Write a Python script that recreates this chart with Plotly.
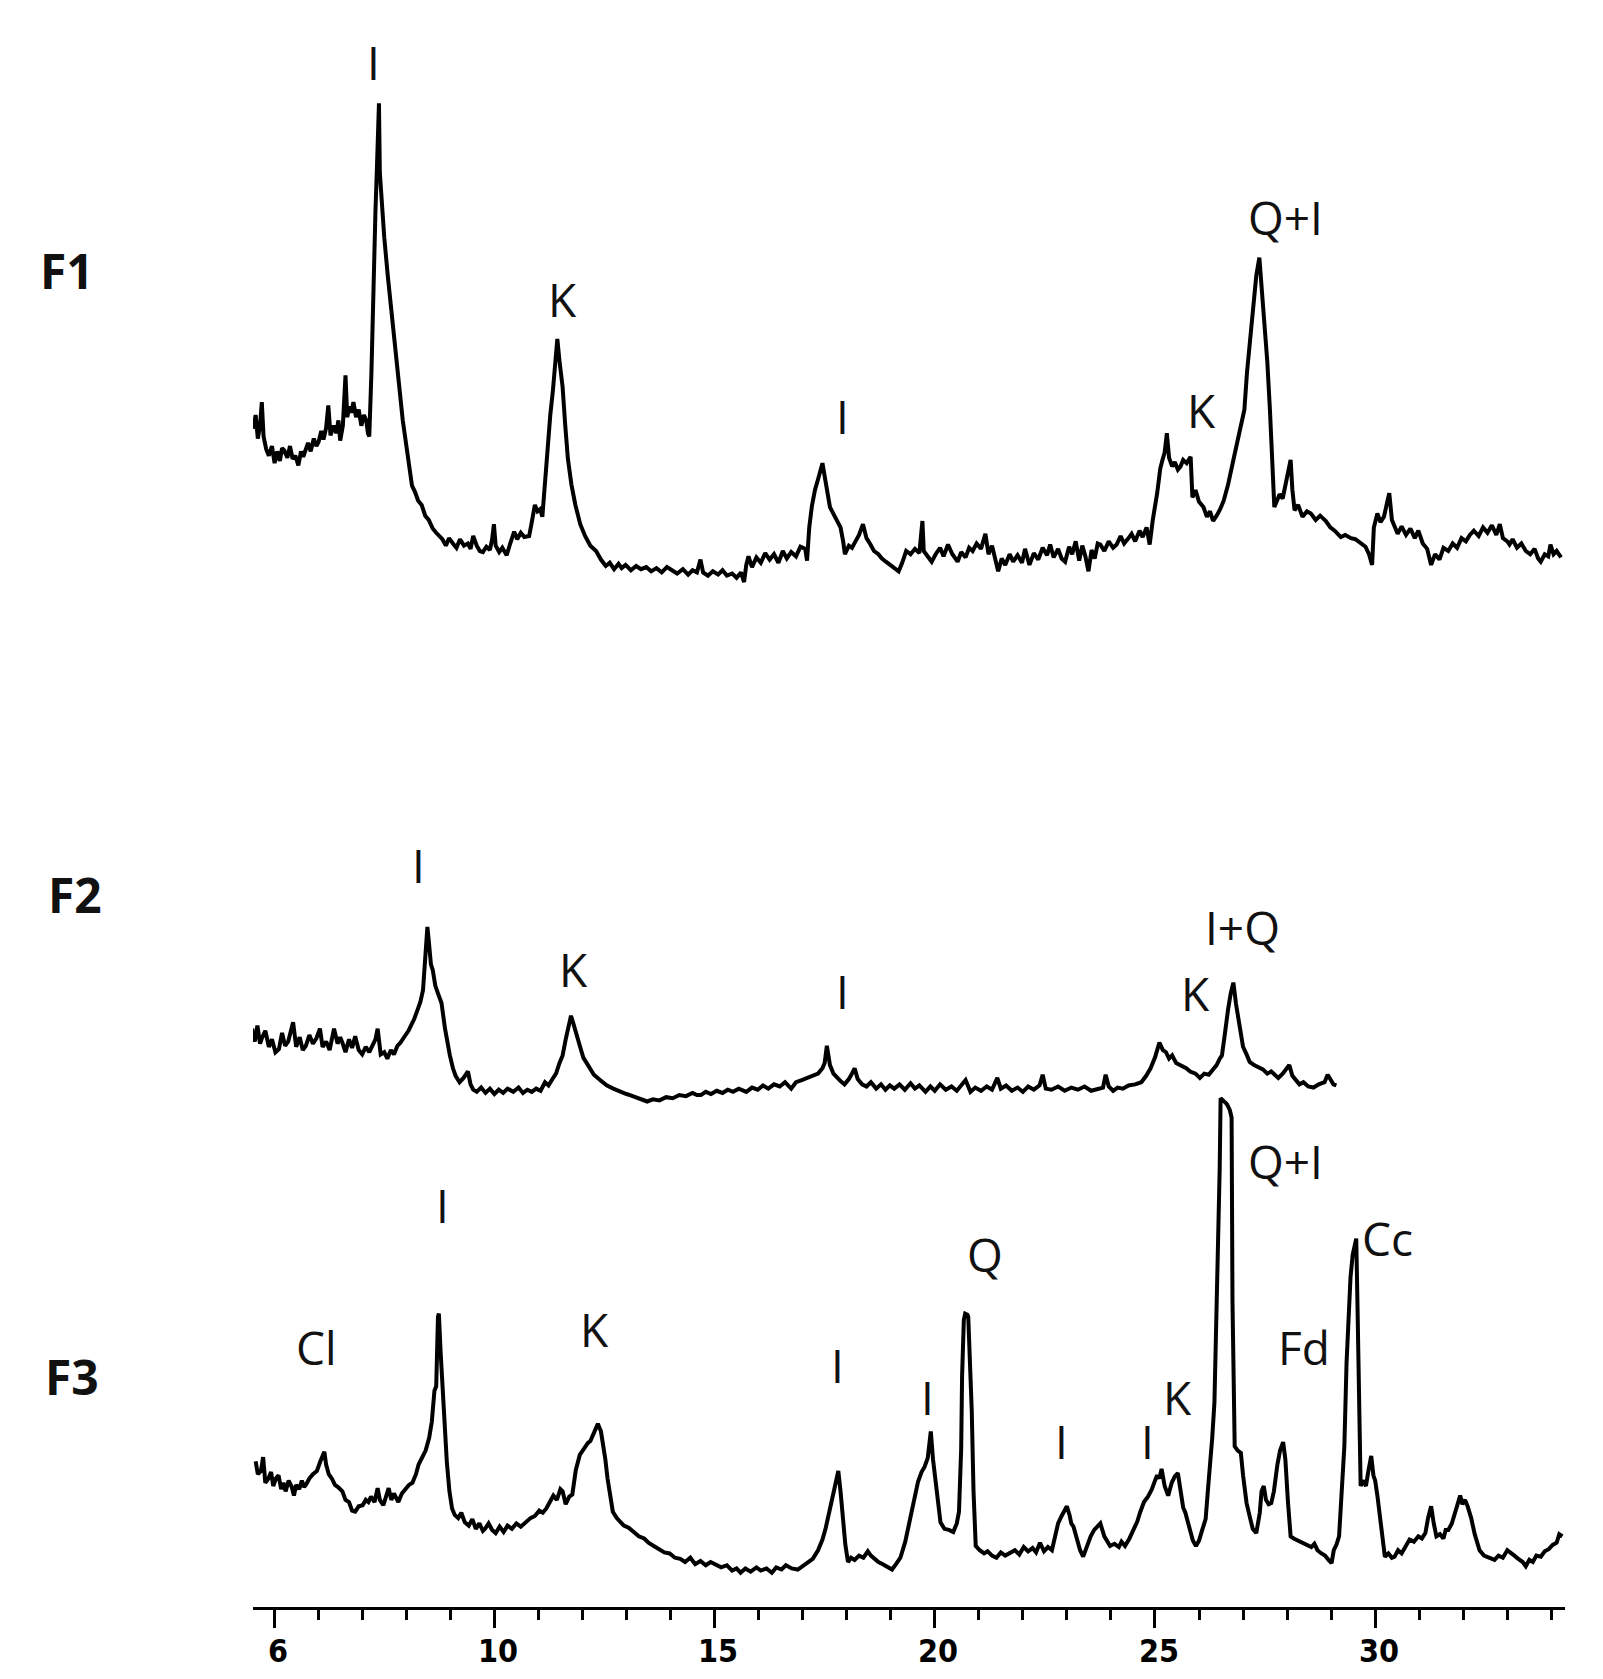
import plotly.graph_objects as go

# ---------------- data: (2theta [deg], intensity [a.u.]) ----------------
F1_scan = [
    (4.53, 147), (4.58, 160), (4.63, 138), (4.68, 150), (4.72, 172), (4.76, 140), (4.82, 128),
    (4.88, 122), (4.95, 131), (5.01, 115), (5.07, 126), (5.13, 117), (5.18, 129), (5.23, 127),
    (5.30, 120), (5.36, 131), (5.42, 119), (5.48, 122), (5.55, 113), (5.61, 126), (5.66, 121),
    (5.70, 127), (5.77, 134), (5.83, 126), (5.90, 138), (5.96, 131), (6.01, 135), (6.07, 145),
    (6.12, 137), (6.18, 148), (6.23, 169), (6.28, 141), (6.35, 150), (6.41, 143), (6.46, 155),
    (6.50, 136), (6.56, 150), (6.62, 197), (6.66, 158), (6.71, 168), (6.75, 162), (6.80, 172),
    (6.86, 158), (6.92, 165), (6.98, 150), (7.04, 160), (7.09, 155), (7.13, 143), (7.16, 140),
    (7.21, 201), (7.26, 308), (7.30, 350), (7.33, 386), (7.35, 420), (7.38, 451), (7.40, 386),
    (7.44, 360), (7.50, 326), (7.58, 290), (7.67, 254), (7.75, 220), (7.84, 183), (7.92, 155),
    (8.01, 129), (8.07, 110), (8.13, 94), (8.20, 88), (8.27, 80), (8.35, 76), (8.43, 66),
    (8.51, 62), (8.60, 54), (8.68, 50), (8.75, 47), (8.82, 44), (8.90, 38), (8.97, 45),
    (9.06, 40), (9.14, 36), (9.22, 44), (9.31, 38), (9.40, 40), (9.46, 35), (9.52, 47),
    (9.60, 38), (9.67, 33), (9.74, 32), (9.82, 37), (9.90, 34), (9.95, 44), (9.99, 58),
    (10.03, 38), (10.11, 32), (10.18, 36), (10.28, 29), (10.36, 40), (10.45, 51), (10.52, 44),
    (10.60, 50), (10.68, 46), (10.79, 47), (10.85, 60), (10.92, 76), (10.98, 70), (11.04, 72),
    (11.09, 65), (11.15, 100), (11.21, 136), (11.27, 160), (11.33, 183), (11.38, 205), (11.43, 231),
    (11.48, 210), (11.55, 186), (11.61, 150), (11.67, 119), (11.75, 95), (11.84, 76), (11.95, 58),
    (12.06, 47), (12.18, 38), (12.31, 33), (12.42, 25), (12.53, 19), (12.62, 22), (12.72, 16),
    (12.82, 21), (12.89, 17), (12.98, 20), (13.10, 15), (13.22, 19), (13.33, 16), (13.45, 18),
    (13.56, 14), (13.68, 17), (13.80, 13), (13.92, 18), (14.04, 15), (14.15, 12), (14.28, 16),
    (14.40, 11), (14.50, 15), (14.60, 13), (14.68, 25), (14.74, 13), (14.85, 10), (14.96, 14),
    (15.08, 11), (15.18, 15), (15.28, 10), (15.40, 12), (15.50, 8), (15.60, 13), (15.67, 4),
    (15.72, 20), (15.77, 28), (15.85, 18), (15.95, 27), (16.05, 22), (16.15, 31), (16.25, 25),
    (16.35, 30), (16.45, 22), (16.55, 33), (16.64, 26), (16.74, 32), (16.85, 28), (16.95, 37),
    (17.06, 35), (17.10, 24), (17.15, 55), (17.21, 75), (17.28, 90), (17.35, 100), (17.45, 115),
    (17.52, 98), (17.62, 74), (17.72, 66), (17.86, 55), (17.92, 42), (17.96, 30), (18.05, 38),
    (18.12, 36), (18.20, 42), (18.28, 48), (18.37, 58), (18.45, 45), (18.54, 39), (18.62, 33),
    (18.72, 30), (18.80, 26), (18.89, 23), (18.98, 20), (19.08, 17), (19.18, 14), (19.26, 22),
    (19.35, 33), (19.45, 30), (19.55, 35), (19.65, 31), (19.72, 61), (19.75, 33), (19.83, 28),
    (19.93, 23), (20.02, 30), (20.12, 36), (20.20, 28), (20.30, 39), (20.40, 30), (20.52, 23),
    (20.60, 32), (20.70, 27), (20.78, 36), (20.86, 33), (20.95, 40), (21.05, 35), (21.15, 49),
    (21.22, 30), (21.30, 38), (21.38, 22), (21.44, 14), (21.52, 26), (21.60, 20), (21.70, 30),
    (21.78, 23), (21.88, 29), (21.98, 22), (22.05, 35), (22.15, 20), (22.25, 31), (22.35, 25),
    (22.45, 36), (22.55, 29), (22.62, 39), (22.70, 27), (22.80, 35), (22.88, 26), (22.96, 23),
    (23.05, 37), (23.12, 30), (23.20, 42), (23.28, 24), (23.35, 38), (23.42, 28), (23.49, 14),
    (23.56, 34), (23.63, 26), (23.70, 40), (23.76, 39), (23.85, 33), (23.95, 42), (24.05, 36),
    (24.13, 39), (24.22, 47), (24.30, 40), (24.40, 45), (24.47, 49), (24.55, 42), (24.65, 52),
    (24.72, 46), (24.81, 55), (24.88, 39), (24.95, 62), (25.05, 87), (25.12, 110), (25.17, 118),
    (25.22, 125), (25.27, 143), (25.32, 120), (25.39, 112), (25.45, 116), (25.52, 109), (25.58, 112),
    (25.64, 118), (25.72, 115), (25.81, 121), (25.85, 83), (25.92, 90), (26.00, 79), (26.10, 74),
    (26.18, 65), (26.25, 70), (26.32, 61), (26.40, 66), (26.48, 72), (26.56, 80), (26.66, 95),
    (26.78, 118), (26.90, 140), (27.03, 165), (27.09, 200), (27.15, 228), (27.20, 250), (27.25, 269),
    (27.30, 290), (27.37, 307), (27.43, 275), (27.49, 244), (27.55, 210), (27.61, 165), (27.66, 120),
    (27.71, 74), (27.77, 80), (27.83, 86), (27.90, 82), (27.97, 95), (28.03, 110), (28.08, 118),
    (28.12, 90), (28.17, 71), (28.25, 76), (28.35, 65), (28.45, 70), (28.54, 68), (28.65, 62),
    (28.75, 66), (28.88, 61), (28.98, 55), (29.08, 52), (29.22, 46), (29.32, 48), (29.45, 45),
    (29.55, 44), (29.69, 39), (29.78, 37), (29.86, 30), (29.93, 20), (29.97, 55), (30.05, 68),
    (30.12, 60), (30.20, 65), (30.28, 80), (30.32, 87), (30.38, 62), (30.45, 55), (30.51, 49),
    (30.60, 56), (30.70, 48), (30.80, 54), (30.90, 45), (30.98, 52), (31.08, 40), (31.18, 35),
    (31.27, 20), (31.36, 30), (31.46, 25), (31.55, 36), (31.66, 33), (31.76, 40), (31.86, 36),
    (31.96, 45), (32.06, 42), (32.15, 48), (32.24, 52), (32.35, 47), (32.45, 55), (32.55, 50),
    (32.65, 57), (32.75, 48), (32.83, 58), (32.90, 45), (33.00, 42), (33.05, 39), (33.12, 44),
    (33.22, 36), (33.32, 40), (33.42, 33), (33.52, 30), (33.62, 35), (33.70, 26), (33.76, 23),
    (33.85, 30), (33.93, 28), (33.98, 39), (34.05, 30), (34.12, 33), (34.22, 27),
]

F2_scan = [
    (4.50, 72), (4.56, 60), (4.62, 75), (4.68, 58), (4.72, 63), (4.80, 70), (4.88, 55),
    (4.95, 62), (5.03, 50), (5.11, 53), (5.18, 68), (5.25, 56), (5.32, 60), (5.43, 78),
    (5.50, 55), (5.58, 64), (5.65, 52), (5.72, 56), (5.80, 66), (5.88, 58), (5.96, 63),
    (6.04, 72), (6.10, 55), (6.18, 60), (6.26, 52), (6.36, 72), (6.44, 58), (6.50, 64),
    (6.55, 59), (6.62, 50), (6.70, 62), (6.77, 54), (6.84, 65), (6.92, 52), (7.00, 48),
    (7.08, 55), (7.16, 50), (7.25, 58), (7.30, 62), (7.35, 72), (7.42, 48), (7.50, 50),
    (7.57, 44), (7.65, 52), (7.72, 48), (7.80, 56), (7.87, 59), (7.95, 64), (8.05, 70),
    (8.12, 76), (8.18, 81), (8.26, 90), (8.32, 97), (8.38, 108), (8.43, 140), (8.48, 167),
    (8.52, 150), (8.56, 132), (8.60, 127), (8.66, 112), (8.72, 105), (8.80, 96), (8.88, 72),
    (8.94, 55), (8.99, 47), (9.06, 35), (9.12, 28), (9.21, 22), (9.30, 26), (9.40, 32),
    (9.46, 20), (9.52, 15), (9.60, 13), (9.70, 17), (9.80, 12), (9.90, 16), (10.00, 11),
    (10.10, 15), (10.20, 12), (10.30, 16), (10.43, 13), (10.55, 17), (10.65, 12), (10.75, 15),
    (10.85, 13), (10.95, 16), (11.05, 14), (11.15, 22), (11.23, 19), (11.32, 25), (11.40, 30),
    (11.48, 40), (11.55, 47), (11.62, 62), (11.68, 72), (11.74, 84), (11.80, 76), (11.86, 66),
    (11.94, 56), (12.02, 45), (12.12, 38), (12.26, 29), (12.40, 24), (12.55, 19), (12.70, 16),
    (12.85, 13), (13.00, 11), (13.08, 10), (13.20, 8), (13.35, 6), (13.47, 4), (13.60, 6),
    (13.75, 5), (13.90, 8), (14.05, 7), (14.20, 10), (14.35, 9), (14.50, 12), (14.60, 10),
    (14.69, 10), (14.80, 13), (14.92, 11), (15.05, 14), (15.18, 12), (15.30, 15), (15.42, 13),
    (15.55, 16), (15.72, 13), (15.85, 17), (15.98, 15), (16.10, 19), (16.22, 16), (16.35, 20),
    (16.48, 18), (16.60, 22), (16.74, 16), (16.85, 22), (16.98, 24), (17.10, 26), (17.22, 28),
    (17.35, 30), (17.45, 35), (17.50, 40), (17.55, 56), (17.58, 45), (17.62, 38), (17.70, 30),
    (17.78, 26), (17.86, 23), (17.95, 20), (18.05, 25), (18.12, 30), (18.18, 35), (18.25, 25),
    (18.35, 20), (18.45, 18), (18.55, 22), (18.67, 16), (18.78, 20), (18.88, 15), (18.98, 19),
    (19.08, 16), (19.20, 20), (19.32, 15), (19.45, 21), (19.55, 16), (19.65, 19), (19.79, 13),
    (19.90, 18), (20.00, 14), (20.12, 20), (20.25, 15), (20.38, 18), (20.50, 14), (20.60, 19),
    (20.70, 24), (20.81, 13), (20.92, 17), (21.05, 14), (21.18, 18), (21.30, 15), (21.42, 26),
    (21.50, 16), (21.62, 19), (21.75, 14), (21.88, 17), (22.00, 13), (22.12, 18), (22.25, 15),
    (22.38, 19), (22.45, 29), (22.52, 16), (22.65, 15), (22.80, 18), (22.95, 14), (23.10, 17),
    (23.25, 15), (23.40, 18), (23.55, 14), (23.70, 16), (23.82, 17), (23.88, 29), (23.95, 18),
    (24.05, 14), (24.15, 17), (24.27, 16), (24.40, 19), (24.55, 20), (24.69, 22), (24.80, 28),
    (24.90, 35), (25.00, 45), (25.10, 59), (25.18, 52), (25.25, 50), (25.32, 44), (25.39, 47),
    (25.48, 40), (25.58, 38), (25.71, 35), (25.80, 32), (25.92, 30), (26.02, 26), (26.12, 30),
    (26.22, 29), (26.30, 33), (26.40, 38), (26.47, 44), (26.52, 47), (26.58, 65), (26.62, 81),
    (26.66, 90), (26.72, 105), (26.78, 115), (26.84, 95), (26.90, 80), (26.93, 72), (27.00, 55),
    (27.08, 48), (27.15, 41), (27.25, 38), (27.35, 36), (27.45, 34), (27.55, 30), (27.64, 32),
    (27.72, 29), (27.80, 26), (27.90, 30), (27.98, 34), (28.05, 38), (28.12, 28), (28.20, 24),
    (28.28, 20), (28.37, 22), (28.48, 18), (28.60, 17), (28.72, 20), (28.85, 22), (28.92, 29),
    (28.98, 25), (29.05, 20), (29.12, 19),
]

F3_scan = [
    (4.58, 108), (4.63, 96), (4.70, 99), (4.75, 112), (4.80, 88), (4.87, 92), (4.93, 98),
    (4.98, 85), (5.04, 92), (5.10, 95), (5.16, 82), (5.21, 88), (5.26, 80), (5.33, 90),
    (5.40, 84), (5.45, 76), (5.50, 86), (5.57, 82), (5.63, 90), (5.68, 84), (5.72, 86),
    (5.80, 92), (5.88, 96), (5.97, 99), (6.05, 108), (6.10, 112), (6.14, 117), (6.18, 105),
    (6.24, 96), (6.31, 92), (6.38, 86), (6.45, 84), (6.55, 80), (6.62, 72), (6.70, 70),
    (6.77, 62), (6.84, 61), (6.92, 66), (7.01, 67), (7.08, 72), (7.14, 70), (7.20, 75),
    (7.28, 70), (7.35, 83), (7.40, 72), (7.48, 67), (7.54, 75), (7.60, 83), (7.66, 72),
    (7.72, 78), (7.82, 70), (7.90, 78), (7.98, 82), (8.06, 86), (8.14, 88), (8.22, 96),
    (8.28, 105), (8.36, 112), (8.44, 118), (8.52, 130), (8.58, 145), (8.64, 174), (8.68, 178),
    (8.72, 243), (8.74, 246), (8.78, 210), (8.82, 177), (8.86, 150), (8.92, 108), (8.98, 80),
    (9.04, 64), (9.10, 58), (9.18, 55), (9.25, 60), (9.33, 51), (9.42, 48), (9.50, 54),
    (9.58, 45), (9.66, 50), (9.74, 43), (9.79, 45), (9.87, 50), (9.95, 44), (10.03, 41),
    (10.12, 47), (10.21, 42), (10.30, 48), (10.40, 45), (10.50, 50), (10.60, 47), (10.72, 51),
    (10.82, 55), (10.92, 57), (11.02, 62), (11.10, 60), (11.18, 64), (11.26, 70), (11.34, 76),
    (11.42, 72), (11.50, 82), (11.55, 80), (11.62, 68), (11.70, 75), (11.77, 77), (11.85, 100),
    (11.94, 114), (12.04, 120), (12.12, 125), (12.18, 127), (12.26, 135), (12.35, 143), (12.42, 136),
    (12.47, 124), (12.52, 110), (12.57, 92), (12.63, 75), (12.69, 61), (12.78, 55), (12.86, 52),
    (12.94, 48), (13.05, 46), (13.15, 42), (13.28, 38), (13.40, 36), (13.50, 32), (13.62, 29),
    (13.74, 26), (13.86, 23), (13.98, 22), (14.10, 18), (14.22, 17), (14.33, 14), (14.45, 18),
    (14.56, 12), (14.68, 15), (14.80, 11), (14.91, 14), (15.02, 12), (15.15, 9), (15.28, 11),
    (15.40, 6), (15.50, 8), (15.59, 4), (15.70, 8), (15.82, 5), (15.95, 9), (16.05, 6),
    (16.18, 8), (16.30, 4), (16.40, 9), (16.52, 7), (16.62, 11), (16.75, 8), (16.89, 7),
    (17.00, 10), (17.12, 14), (17.23, 17), (17.35, 25), (17.45, 35), (17.52, 45), (17.60, 60),
    (17.69, 77), (17.76, 90), (17.81, 99), (17.86, 80), (17.91, 55), (17.97, 30), (18.03, 14),
    (18.10, 18), (18.18, 16), (18.28, 20), (18.38, 18), (18.48, 24), (18.55, 20), (18.62, 17),
    (18.72, 14), (18.82, 12), (18.92, 10), (19.03, 7), (19.12, 12), (19.22, 18), (19.33, 33),
    (19.42, 50), (19.52, 70), (19.62, 89), (19.70, 98), (19.77, 103), (19.84, 111), (19.91, 136),
    (19.96, 110), (20.01, 92), (20.07, 70), (20.13, 51), (20.22, 45), (20.32, 44), (20.42, 42),
    (20.50, 50), (20.55, 61), (20.60, 120), (20.62, 187), (20.66, 240), (20.69, 246), (20.74, 245),
    (20.76, 243), (20.81, 200), (20.84, 155), (20.88, 80), (20.93, 29), (21.02, 25), (21.12, 22),
    (21.20, 24), (21.30, 20), (21.40, 18), (21.50, 23), (21.60, 20), (21.71, 22), (21.82, 25),
    (21.92, 21), (22.02, 28), (22.12, 24), (22.22, 27), (22.30, 23), (22.39, 32), (22.48, 24),
    (22.57, 28), (22.66, 25), (22.74, 40), (22.80, 50), (22.88, 57), (22.94, 62), (23.00, 66),
    (23.06, 58), (23.10, 50), (23.15, 47), (23.22, 35), (23.30, 25), (23.37, 19), (23.45, 28),
    (23.54, 38), (23.62, 44), (23.70, 47), (23.76, 50), (23.85, 38), (23.92, 32), (23.98, 29),
    (24.08, 31), (24.18, 28), (24.24, 33), (24.32, 29), (24.42, 36), (24.52, 45), (24.60, 52),
    (24.66, 60), (24.75, 70), (24.84, 75), (24.93, 82), (25.00, 90), (25.05, 95), (25.10, 92),
    (25.15, 101), (25.22, 85), (25.30, 76), (25.38, 88), (25.45, 94), (25.52, 97), (25.58, 80),
    (25.64, 65), (25.69, 60), (25.78, 45), (25.86, 34), (25.93, 29), (26.00, 34), (26.08, 45),
    (26.15, 54), (26.20, 80), (26.25, 101), (26.30, 130), (26.35, 163), (26.40, 247), (26.44, 320),
    (26.47, 382), (26.49, 447), (26.53, 446), (26.57, 444), (26.60, 443), (26.64, 441), (26.70, 436),
    (26.74, 429), (26.76, 257), (26.78, 180), (26.81, 122), (26.88, 118), (26.95, 116), (27.00, 95),
    (27.08, 69), (27.16, 55), (27.22, 45), (27.30, 41), (27.38, 60), (27.42, 80), (27.47, 85),
    (27.52, 72), (27.58, 68), (27.64, 69), (27.70, 80), (27.78, 105), (27.84, 118), (27.91, 126),
    (27.96, 110), (28.02, 70), (28.08, 38), (28.15, 36), (28.25, 34), (28.35, 32), (28.45, 30),
    (28.55, 28), (28.62, 31), (28.69, 25), (28.78, 22), (28.86, 20), (28.94, 16), (29.01, 13),
    (29.06, 25), (29.12, 30), (29.18, 38), (29.24, 80), (29.30, 122), (29.35, 200), (29.40, 257),
    (29.44, 280), (29.49, 301), (29.53, 310), (29.57, 316), (29.60, 250), (29.62, 194), (29.64, 130),
    (29.67, 85), (29.72, 90), (29.79, 85), (29.85, 100), (29.91, 113), (29.96, 95), (30.00, 90),
    (30.05, 76), (30.12, 50), (30.18, 30), (30.22, 19), (30.30, 22), (30.38, 18), (30.44, 19),
    (30.52, 25), (30.60, 22), (30.70, 30), (30.78, 35), (30.88, 33), (30.98, 38), (31.06, 36),
    (31.14, 41), (31.20, 55), (31.27, 66), (31.33, 50), (31.39, 38), (31.47, 40), (31.55, 36),
    (31.60, 44), (31.66, 44), (31.74, 50), (31.82, 62), (31.88, 70), (31.93, 76), (31.98, 68),
    (32.04, 72), (32.10, 66), (32.18, 55), (32.26, 40), (32.37, 25), (32.47, 20), (32.58, 18),
    (32.71, 16), (32.80, 20), (32.90, 18), (33.00, 25), (33.08, 22), (33.16, 20), (33.25, 17),
    (33.35, 14), (33.42, 10), (33.50, 16), (33.58, 14), (33.66, 20), (33.76, 19), (33.85, 24),
    (33.94, 26), (34.03, 30), (34.12, 32), (34.18, 40), (34.25, 38),
]

sample_names = ["F1", "F2", "F3"]

# peak labels: text, 2theta, height above the trace baseline (a.u.)
labels_F1 = ["I", "K", "I", "K", "Q+I"]
label_pos_F1 = [7.26, 11.55, 17.91, 26.05, 27.96]
label_h_F1 = [490, 268, 159, 165, 345]

labels_F2 = ["I", "K", "I", "K", "I+Q"]
label_pos_F2 = [8.28, 11.79, 17.91, 25.91, 26.98]
label_h_F2 = [225, 128, 107, 105, 167]

labels_F3 = ["Cl", "I", "K", "I", "I", "Q", "I", "I", "K", "Q+I", "Fd", "Cc"]
label_pos_F3 = [5.97, 8.82, 12.28, 17.79, 19.84, 21.13, 22.88, 24.83, 25.52, 27.96, 28.39, 30.27]
label_h_F3 = [215, 347, 232, 198, 168, 302, 127, 127, 168, 388, 215, 317]

tick_vals = [5, 10, 15, 20, 25, 30]
tick_text = ["6", "10", "15", "20", "25", "30"]

# ---------------- layout / stacking ----------------
offsets = [953, 468, 28]          # vertical stacking of the three patterns
name_x_paper = [-0.1418, -0.1353, -0.1378]
name_y = [1248, 665, 215]
tick_label_y_paper = -0.0275

series = [
    (F1_scan, labels_F1, label_pos_F1, label_h_F1),
    (F2_scan, labels_F2, label_pos_F2, label_h_F2),
    (F3_scan, labels_F3, label_pos_F3, label_h_F3),
]

fig = go.Figure()
annotations = []
label_font = dict(family="Open Sans, Noto Sans, sans-serif", size=46, color="#111111")

for i, (scan, labs, lpos, lh) in enumerate(series):
    off = offsets[i]
    xs = [p[0] for p in scan]
    ys = [p[1] + off for p in scan]
    fig.add_trace(go.Scatter(
        x=xs, y=ys, mode="lines",
        line=dict(color="black", width=4),
        name=sample_names[i], hoverinfo="skip",
    ))
    for t, px, h in zip(labs, lpos, lh):
        annotations.append(dict(
            x=px, y=h + off, xref="x", yref="y", text=t, showarrow=False,
            xanchor="center", yanchor="middle", font=label_font,
        ))
    annotations.append(dict(
        x=name_x_paper[i], y=name_y[i], xref="paper", yref="y",
        text="<b>%s</b>" % sample_names[i], showarrow=False,
        xanchor="center", yanchor="middle",
        font=dict(family="Open Sans, Noto Sans, sans-serif", size=48, color="#111111"),
    ))

# x tick labels (drawn as text just below the axis)
for tv, tt in zip(tick_vals, tick_text):
    annotations.append(dict(
        x=tv + 0.08, y=tick_label_y_paper, xref="x", yref="paper", text="<b>%s</b>" % tt,
        showarrow=False, xanchor="center", yanchor="middle",
        font=dict(family="Liberation Sans Narrow, DejaVu Sans Condensed, sans-serif",
                  size=32, color="black"),
    ))

fig.update_layout(
    width=1603, height=1679,
    margin=dict(l=245, r=46, t=0, b=80),
    paper_bgcolor="white", plot_bgcolor="white",
    showlegend=False,
    annotations=annotations,
    xaxis=dict(
        range=[4.52, 34.31],
        tickmode="array", tickvals=tick_vals, showticklabels=False,
        ticks="outside", ticklen=18, tickwidth=3, tickcolor="black",
        minor=dict(tickmode="linear", tick0=0, dtick=1, ticks="outside",
                   ticklen=10, tickwidth=3, tickcolor="black"),
        showline=True, linecolor="black", linewidth=3,
        showgrid=False, zeroline=False, fixedrange=True,
    ),
    yaxis=dict(range=[0, 1493], visible=False, fixedrange=True),
)

fig.write_html("out.html")
